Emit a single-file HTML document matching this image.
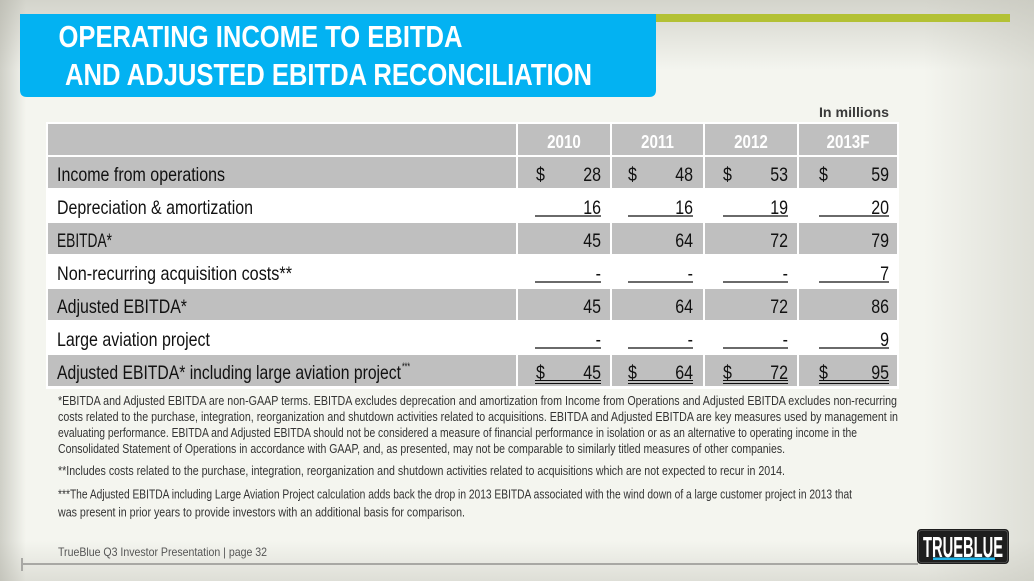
<!DOCTYPE html>
<html><head><meta charset="utf-8"><style>
html,body{margin:0;padding:0;width:1034px;height:581px;overflow:hidden}
body{background:
 linear-gradient(to right, rgba(175,175,165,.55) 0px, rgba(175,175,165,0) 26px),
 linear-gradient(to left, rgba(195,195,185,.45) 0px, rgba(195,195,185,0) 110px),
 linear-gradient(to bottom, rgba(190,190,180,.6) 0px, rgba(190,190,180,0) 70px),
 linear-gradient(to top, rgba(195,195,185,.45) 0px, rgba(195,195,185,0) 40px),
 #f4f5ef;}
svg{position:absolute;left:0;top:0}
text{font-family:"Liberation Sans",Arial,sans-serif}
</style></head><body>
<svg width="1034" height="581" viewBox="0 0 1034 581" xmlns="http://www.w3.org/2000/svg">
<!-- green bar -->
<rect x="650" y="14" width="360" height="8" fill="#b3c135"/>
<!-- title box -->
<path d="M20 14 H656 V90 Q656 97 649 97 H27 Q20 97 20 90 Z" fill="#03b2f2"/>
<text x="58.5" y="47" font-size="30.5" font-weight="bold" fill="#fff" textLength="404" lengthAdjust="spacingAndGlyphs">OPERATING INCOME TO EBITDA</text>
<text x="65" y="85" font-size="30.5" font-weight="bold" fill="#fff" textLength="527" lengthAdjust="spacingAndGlyphs">AND ADJUSTED EBITDA RECONCILIATION</text>

<!-- In millions -->
<text x="889" y="117" font-size="14" font-weight="bold" fill="#3a3a3a" text-anchor="end" textLength="70" lengthAdjust="spacingAndGlyphs">In millions</text>

<!-- table background -->
<rect x="46" y="122" width="853" height="267" fill="#ffffff"/>
<g fill="#bfbfbf">
<rect x="48" y="124" width="468" height="31"/><rect x="518" y="124" width="92" height="31"/><rect x="612" y="124" width="91" height="31"/><rect x="705" y="124" width="92" height="31"/><rect x="799" y="124" width="98" height="31"/>
<rect x="48" y="157" width="468" height="31"/><rect x="518" y="157" width="92" height="31"/><rect x="612" y="157" width="91" height="31"/><rect x="705" y="157" width="92" height="31"/><rect x="799" y="157" width="98" height="31"/>
<rect x="48" y="223" width="468" height="31"/><rect x="518" y="223" width="92" height="31"/><rect x="612" y="223" width="91" height="31"/><rect x="705" y="223" width="92" height="31"/><rect x="799" y="223" width="98" height="31"/>
<rect x="48" y="289" width="468" height="31"/><rect x="518" y="289" width="92" height="31"/><rect x="612" y="289" width="91" height="31"/><rect x="705" y="289" width="92" height="31"/><rect x="799" y="289" width="98" height="31"/>
<rect x="48" y="355" width="468" height="31"/><rect x="518" y="355" width="92" height="31"/><rect x="612" y="355" width="91" height="31"/><rect x="705" y="355" width="92" height="31"/><rect x="799" y="355" width="98" height="31"/>
</g>

<!-- header text -->
<g font-size="18.5" font-weight="bold" fill="#ffffff" text-anchor="middle">
<text transform="translate(564 148) scale(0.82 1)">2010</text>
<text transform="translate(657.5 148) scale(0.82 1)">2011</text>
<text transform="translate(751 148) scale(0.82 1)">2012</text>
<text transform="translate(848 148) scale(0.82 1)">2013F</text>
</g>

<!-- labels -->
<g font-size="19.5" fill="#111">
<text x="57" y="181" textLength="168" lengthAdjust="spacingAndGlyphs">Income from operations</text>
<text x="57" y="214" textLength="196" lengthAdjust="spacingAndGlyphs">Depreciation &amp; amortization</text>
<text x="57" y="247" textLength="55" lengthAdjust="spacingAndGlyphs">EBITDA*</text>
<text x="57" y="280" textLength="235" lengthAdjust="spacingAndGlyphs">Non-recurring acquisition costs**</text>
<text x="57" y="313" textLength="130" lengthAdjust="spacingAndGlyphs">Adjusted EBITDA*</text>
<text x="57" y="346" textLength="153" lengthAdjust="spacingAndGlyphs">Large aviation project</text>
<text x="57" y="379" textLength="344" lengthAdjust="spacingAndGlyphs">Adjusted EBITDA* including large aviation project</text>
<text x="402" y="370" font-size="11" textLength="8" lengthAdjust="spacingAndGlyphs">***</text>
</g>

<!-- numbers -->
<g font-size="19.5" fill="#111">
<text transform="translate(536 181) scale(0.82 1)">$</text>
<text transform="translate(601 181) scale(0.82 1)" text-anchor="end">28</text>
<text transform="translate(628 181) scale(0.82 1)">$</text>
<text transform="translate(693 181) scale(0.82 1)" text-anchor="end">48</text>
<text transform="translate(723 181) scale(0.82 1)">$</text>
<text transform="translate(788 181) scale(0.82 1)" text-anchor="end">53</text>
<text transform="translate(819 181) scale(0.82 1)">$</text>
<text transform="translate(889 181) scale(0.82 1)" text-anchor="end">59</text>
<text transform="translate(601 214) scale(0.82 1)" text-anchor="end">16</text>
<text transform="translate(693 214) scale(0.82 1)" text-anchor="end">16</text>
<text transform="translate(788 214) scale(0.82 1)" text-anchor="end">19</text>
<text transform="translate(889 214) scale(0.82 1)" text-anchor="end">20</text>
<text transform="translate(601 247) scale(0.82 1)" text-anchor="end">45</text>
<text transform="translate(693 247) scale(0.82 1)" text-anchor="end">64</text>
<text transform="translate(788 247) scale(0.82 1)" text-anchor="end">72</text>
<text transform="translate(889 247) scale(0.82 1)" text-anchor="end">79</text>
<text transform="translate(601 280) scale(0.82 1)" text-anchor="end">-</text>
<text transform="translate(693 280) scale(0.82 1)" text-anchor="end">-</text>
<text transform="translate(788 280) scale(0.82 1)" text-anchor="end">-</text>
<text transform="translate(889 280) scale(0.82 1)" text-anchor="end">7</text>
<text transform="translate(601 313) scale(0.82 1)" text-anchor="end">45</text>
<text transform="translate(693 313) scale(0.82 1)" text-anchor="end">64</text>
<text transform="translate(788 313) scale(0.82 1)" text-anchor="end">72</text>
<text transform="translate(889 313) scale(0.82 1)" text-anchor="end">86</text>
<text transform="translate(601 346) scale(0.82 1)" text-anchor="end">-</text>
<text transform="translate(693 346) scale(0.82 1)" text-anchor="end">-</text>
<text transform="translate(788 346) scale(0.82 1)" text-anchor="end">-</text>
<text transform="translate(889 346) scale(0.82 1)" text-anchor="end">9</text>
<text transform="translate(536 379) scale(0.82 1)">$</text>
<text transform="translate(601 379) scale(0.82 1)" text-anchor="end">45</text>
<text transform="translate(628 379) scale(0.82 1)">$</text>
<text transform="translate(693 379) scale(0.82 1)" text-anchor="end">64</text>
<text transform="translate(723 379) scale(0.82 1)">$</text>
<text transform="translate(788 379) scale(0.82 1)" text-anchor="end">72</text>
<text transform="translate(819 379) scale(0.82 1)">$</text>
<text transform="translate(889 379) scale(0.82 1)" text-anchor="end">95</text>
</g>

<!-- underlines -->
<g stroke="#111" stroke-width="1.3">
<line x1="535" y1="216" x2="601" y2="216"/><line x1="628" y1="216" x2="693" y2="216"/><line x1="723" y1="216" x2="788" y2="216"/><line x1="819" y1="216" x2="889" y2="216"/>
<line x1="535" y1="282" x2="601" y2="282"/><line x1="628" y1="282" x2="693" y2="282"/><line x1="723" y1="282" x2="788" y2="282"/><line x1="819" y1="282" x2="889" y2="282"/>
<line x1="535" y1="348" x2="601" y2="348"/><line x1="628" y1="348" x2="693" y2="348"/><line x1="723" y1="348" x2="788" y2="348"/><line x1="819" y1="348" x2="889" y2="348"/>
</g>
<g stroke="#111" stroke-width="1">
<line x1="535" y1="380.5" x2="601" y2="380.5"/><line x1="628" y1="380.5" x2="693" y2="380.5"/><line x1="723" y1="380.5" x2="788" y2="380.5"/><line x1="819" y1="380.5" x2="889" y2="380.5"/>
<line x1="535" y1="383.5" x2="601" y2="383.5"/><line x1="628" y1="383.5" x2="693" y2="383.5"/><line x1="723" y1="383.5" x2="788" y2="383.5"/><line x1="819" y1="383.5" x2="889" y2="383.5"/>
</g>

<!-- footnotes -->
<g font-size="12.5" fill="#333">
<text x="58" y="405" textLength="839" lengthAdjust="spacingAndGlyphs">*EBITDA and Adjusted EBITDA are non-GAAP terms. EBITDA excludes deprecation and amortization from Income from Operations and Adjusted EBITDA excludes non-recurring</text>
<text x="58" y="421" textLength="840" lengthAdjust="spacingAndGlyphs">costs related to the purchase, integration, reorganization and shutdown activities related to acquisitions. EBITDA and Adjusted EBITDA are key measures used by management in</text>
<text x="58" y="437" textLength="799" lengthAdjust="spacingAndGlyphs">evaluating performance.  EBITDA and Adjusted EBITDA should not be considered a measure of financial performance in isolation or as an alternative to operating income in the</text>
<text x="58" y="453" textLength="727" lengthAdjust="spacingAndGlyphs">Consolidated Statement of Operations in accordance with GAAP, and, as presented, may not be comparable to similarly titled measures of other companies.</text>
<text x="58" y="475" textLength="727" lengthAdjust="spacingAndGlyphs">**Includes costs related to the purchase, integration, reorganization and shutdown activities related to acquisitions which are not expected to recur in 2014.</text>
<text x="58" y="498.5" textLength="794" lengthAdjust="spacingAndGlyphs">***The Adjusted EBITDA including Large Aviation Project calculation adds back the drop in 2013 EBITDA associated with the wind down of a large customer project in 2013 that</text>
<text x="58" y="516.5" textLength="407" lengthAdjust="spacingAndGlyphs">was present in prior years to provide investors with an additional basis for comparison.</text>
</g>

<!-- footer -->
<text x="58" y="556" font-size="12" fill="#555" textLength="209" lengthAdjust="spacingAndGlyphs">TrueBlue Q3 Investor Presentation | page 32</text>
<line x1="22" y1="564" x2="918" y2="564" stroke="#a8a8a4" stroke-width="2"/>
<line x1="22" y1="558" x2="22" y2="571" stroke="#a8a8a4" stroke-width="2"/>

<!-- logo -->
<rect x="917" y="529" width="92" height="35" rx="4" fill="#1e1e1e"/>
<rect x="918.5" y="530.5" width="89" height="32" rx="3" fill="none" stroke="#555" stroke-width="0.8"/>
<text x="923" y="557" font-size="29" font-weight="bold" fill="#ffffff" textLength="80" lengthAdjust="spacingAndGlyphs">TRUEBLUE</text>
<rect x="933" y="557.5" width="62" height="2.5" fill="#22b5e8"/>
</svg>
</body></html>
